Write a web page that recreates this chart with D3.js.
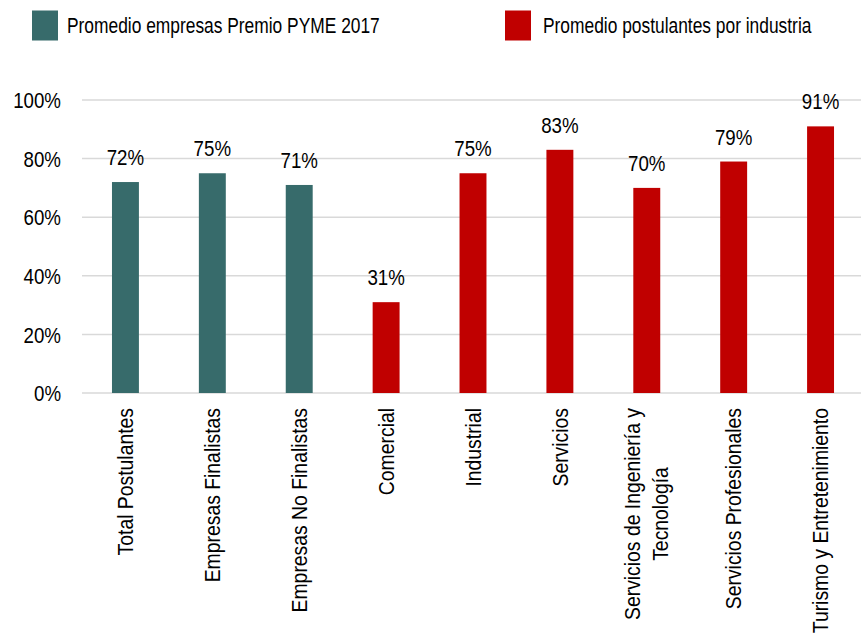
<!DOCTYPE html>
<html>
<head>
<meta charset="utf-8">
<script src="https://cdn.jsdelivr.net/npm/d3@7"></script>
<style>
  html, body { margin: 0; padding: 0; background: #fff; }
  svg text { font-family: "Liberation Sans", Arial, sans-serif; fill: #000; }
</style>
</head>
<body>
<svg id="chart" width="861" height="634"></svg>
<script>
// Categories (line breaks mark wrapped axis labels)
const categories = [
  ["Total Postulantes"],
  ["Empresas Finalistas"],
  ["Empresas No Finalistas"],
  ["Comercial"],
  ["Industrial"],
  ["Servicios"],
  ["Servicios de Ingeniería y", "Tecnología"],
  ["Servicios Profesionales"],
  ["Turismo y Entretenimiento"]
];
// Share of applicants per group, in percent
const values = [72, 75, 71, 31, 75, 83, 70, 79, 91];
// Which legend series each bar belongs to
const groups = ["pyme", "pyme", "pyme", "ind", "ind", "ind", "ind", "ind", "ind"];
const seriesNames = ["Promedio empresas Premio PYME 2017", "Promedio postulantes por industria"];
const seriesKeys = ["pyme", "ind"];
const seriesColors = ["#376B6B", "#C00000"];
const yTicks = [0, 20, 40, 60, 80, 100];

const svg = d3.select("#chart");
const color = d3.scaleOrdinal().domain(seriesKeys).range(seriesColors);

// Narrow sans look: horizontally condense a text selection by factor k
function condense(sel, k) {
  sel.each(function () {
    const w = this.getComputedTextLength();
    d3.select(this).attr("textLength", w * k).attr("lengthAdjust", "spacingAndGlyphs");
  });
}

const plotLeft = 82, plotRight = 864, plotTop = 100, plotBottom = 393;
const x = d3.scaleBand().domain(d3.range(categories.length)).range([plotLeft, plotRight]).paddingInner(0.69).paddingOuter(0.345);
const y = d3.scaleLinear().domain([0, 100]).range([plotBottom, plotTop]);

// Gridlines
svg.append("g").selectAll("line").data(yTicks).join("line")
  .attr("x1", plotLeft).attr("x2", 861)
  .attr("y1", d => y(d)).attr("y2", d => y(d))
  .attr("stroke", "#d9d9d9").attr("stroke-width", 1.5);

// Y axis labels
const yAxis = d3.axisLeft(y).tickValues(yTicks).tickFormat(d => d + "%").tickSize(0).tickPadding(0);
const ya = svg.append("g").attr("transform", "translate(61,0)").call(yAxis);
ya.select(".domain").remove();
ya.selectAll("text").attr("font-size", 22).attr("dy", "0.35em")
  .style("font-family", '"Liberation Sans", Arial, sans-serif').attr("fill", "#000")
  .call(condense, 0.85);

// Bars
svg.append("g").selectAll("rect").data(values).join("rect")
  .attr("x", (d, i) => x(i)).attr("width", x.bandwidth())
  .attr("y", d => y(d)).attr("height", d => y(0) - y(d))
  .attr("fill", (d, i) => color(groups[i]));

// Value labels
svg.append("g").selectAll("text").data(values).join("text")
  .attr("x", (d, i) => x(i) + x.bandwidth() / 2)
  .attr("y", d => y(d) - 17)
  .attr("text-anchor", "middle").attr("font-size", 22)
  .text(d => d + "%")
  .call(condense, 0.85);

// Category labels, rotated, end-aligned at the top; wrapped lines centred on each other
const labelTop = 408, lineGap = 28;
categories.forEach((lines, i) => {
  const cx = x(i) + x.bandwidth() / 2;
  const g = svg.append("g");
  const texts = lines.map(s => g.append("text")
    .attr("font-size", 22).attr("text-anchor", "middle").attr("dy", "0.35em").text(s)
    .call(condense, 0.88));
  const maxW = d3.max(texts, t => +t.attr("textLength"));
  const n = lines.length;
  texts.forEach((t, k) => {
    const px = cx + (k - (n - 1) / 2) * lineGap;
    const py = labelTop + maxW / 2;
    t.attr("transform", `translate(${px},${py}) rotate(-90)`);
  });
});

// Legend
const legendRectX = [32, 505], legendTextX = [67, 543];
const lg = svg.append("g").selectAll("g").data(seriesKeys).join("g");
lg.append("rect")
  .attr("x", (d, i) => legendRectX[i]).attr("y", 10.5)
  .attr("width", 26).attr("height", 30)
  .attr("fill", d => color(d));
lg.append("text")
  .attr("transform", (d, i) => `translate(${legendTextX[i]},33) scale(0.79,1)`)
  .attr("font-size", 22)
  .text((d, i) => seriesNames[i]);
</script>
</body>
</html>
